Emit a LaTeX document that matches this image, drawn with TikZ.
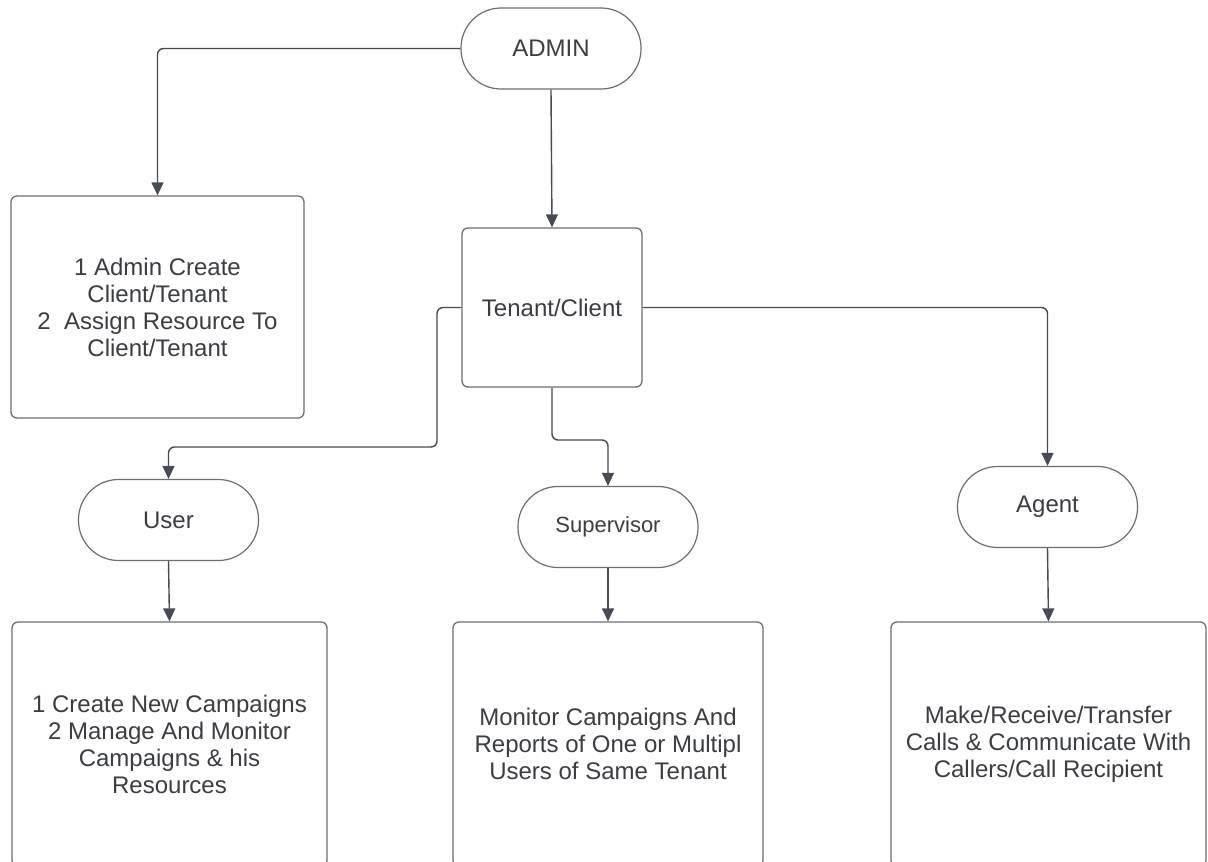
\documentclass[tikz,border=0pt]{standalone}
\usepackage{fontspec}
\setmainfont{Liberation Sans}
\usetikzlibrary{arrows.meta}
\definecolor{txt}{HTML}{3A3D42}
\definecolor{brd}{HTML}{6E6E6E}
\definecolor{conn}{HTML}{464B55}
\tikzset{
  stad/.style={draw=brd, line width=1.2pt, rounded corners=40pt, minimum width=180pt, minimum height=81pt, text=txt, font=\fontsize{24}{27}\selectfont, inner sep=0pt},
  rbox/.style={draw=brd, line width=1.3pt, rounded corners=6pt, text=txt, font=\fontsize{24}{27}\selectfont, align=center, inner sep=0pt},
  conn/.style={draw=conn, line width=1.4pt, rounded corners=6pt, -{Triangle[width=12pt,length=13pt]}}
}
\begin{document}
\begin{tikzpicture}[x=1pt,y=-1pt]
\useasboundingbox (0,0) rectangle (1208,862);
\clip (0,0) rectangle (1208,862);
\fill[white] (0,0) rectangle (1208,862);
% top
\node[stad] (admin) at (551,48.5) {ADMIN};
\node[rbox, minimum width=293pt, minimum height=222pt] (box1) at (157.5,307) {1 Admin Create\\Client/Tenant\\2\ \ Assign Resource To\\Client/Tenant};
\node[rbox, minimum width=180pt, minimum height=159pt] (tenant) at (552,307.5) {Tenant/Client};
% roles
\node[stad] (user) at (168.5,520) {User};
\node[stad, font=\fontsize{22}{25}\selectfont] (sup) at (608,527) {Supervisor};
\node[stad] (agent) at (1047.5,507) {Agent};
% bottom boxes
\node[rbox, minimum width=315pt, minimum height=244pt] (ubox) at (169.5,744) {1 Create New Campaigns\\2 Manage And Monitor\\Campaigns \& his\\Resources};
\node[rbox, minimum width=310pt, minimum height=244pt] (sbox) at (608,744) {Monitor Campaigns And\\Reports of One or Multipl\\Users of Same Tenant};
\node[rbox, minimum width=315pt, minimum height=244pt] (abox) at (1048.5,744) {Make/Receive/Transfer\\Calls \& Communicate With\\Callers/Call Recipient};
% connectors
\coordinate (c1) at (437,447);
\coordinate (c2) at (552,440);
\draw[conn] (admin.west) -| (box1.north);
\draw[conn] (admin.south) -- (tenant.north);
\draw[conn] (tenant.west) -| (c1) -| (user.north);
\draw[conn] (tenant.south) -- (c2) -| (sup.north);
\draw[conn] (tenant.east) -| (agent.north);
\draw[conn] (user.south) -- (ubox.north);
\draw[conn] (sup.south) -- (sbox.north);
\draw[conn] (agent.south) -- (abox.north);
\end{tikzpicture}
\end{document}
